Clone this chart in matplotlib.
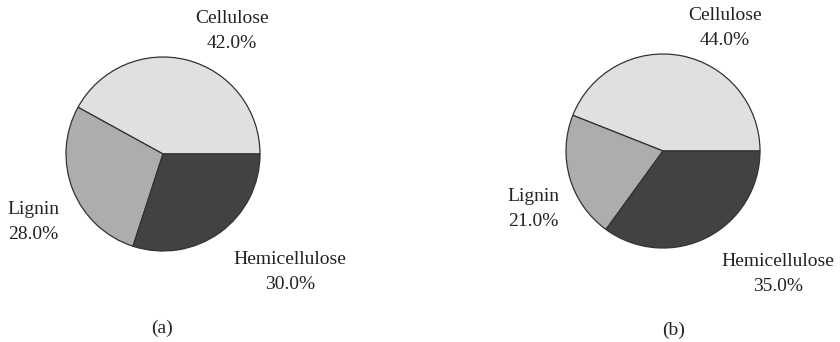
import matplotlib.pyplot as plt

plt.rcParams["font.family"] = ["Liberation Serif", "DejaVu Serif"]

components = ["Cellulose", "Lignin", "Hemicellulose"]
shares_a = [42.0, 28.0, 30.0]
shares_b = [44.0, 21.0, 35.0]
panel_names = ["(a)", "(b)"]

colors = ["#e0e0e0", "#adadad", "#424242"]

# pie centre / radius and label anchors, in pixel units of each half panel
centres = [(163, 188), (243, 191)]
radius = 97
label_pos = [
    {"Cellulose": (232, 311), "Lignin": (33, 120), "Hemicellulose": (290, 70)},
    {"Cellulose": (305, 314), "Lignin": (113, 133), "Hemicellulose": (358, 68)},
]
panel_pos = [(162, 14), (254, 12)]

fig = plt.figure(figsize=(8.4, 3.42), dpi=100)

for i, shares in enumerate([shares_a, shares_b]):
    ax = fig.add_axes([0.5 * i, 0, 0.5, 1])
    ax.pie(shares, colors=colors, startangle=0, counterclock=True,
           center=centres[i], radius=radius,
           wedgeprops=dict(edgecolor="#333333", linewidth=0.9))
    ax.set_xlim(0, 420)
    ax.set_ylim(0, 342)
    ax.set_aspect("equal")
    ax.axis("off")
    for name, val in zip(components, shares):
        x, y = label_pos[i][name]
        ax.text(x, y, "%s\n%.1f%%" % (name, val), ha="center", va="center",
                fontsize=14, color="#222222", linespacing=1.55)
    ax.text(*panel_pos[i], panel_names[i], ha="center", va="center",
            fontsize=14, color="#222222")

fig.savefig("out.png", dpi=100)
